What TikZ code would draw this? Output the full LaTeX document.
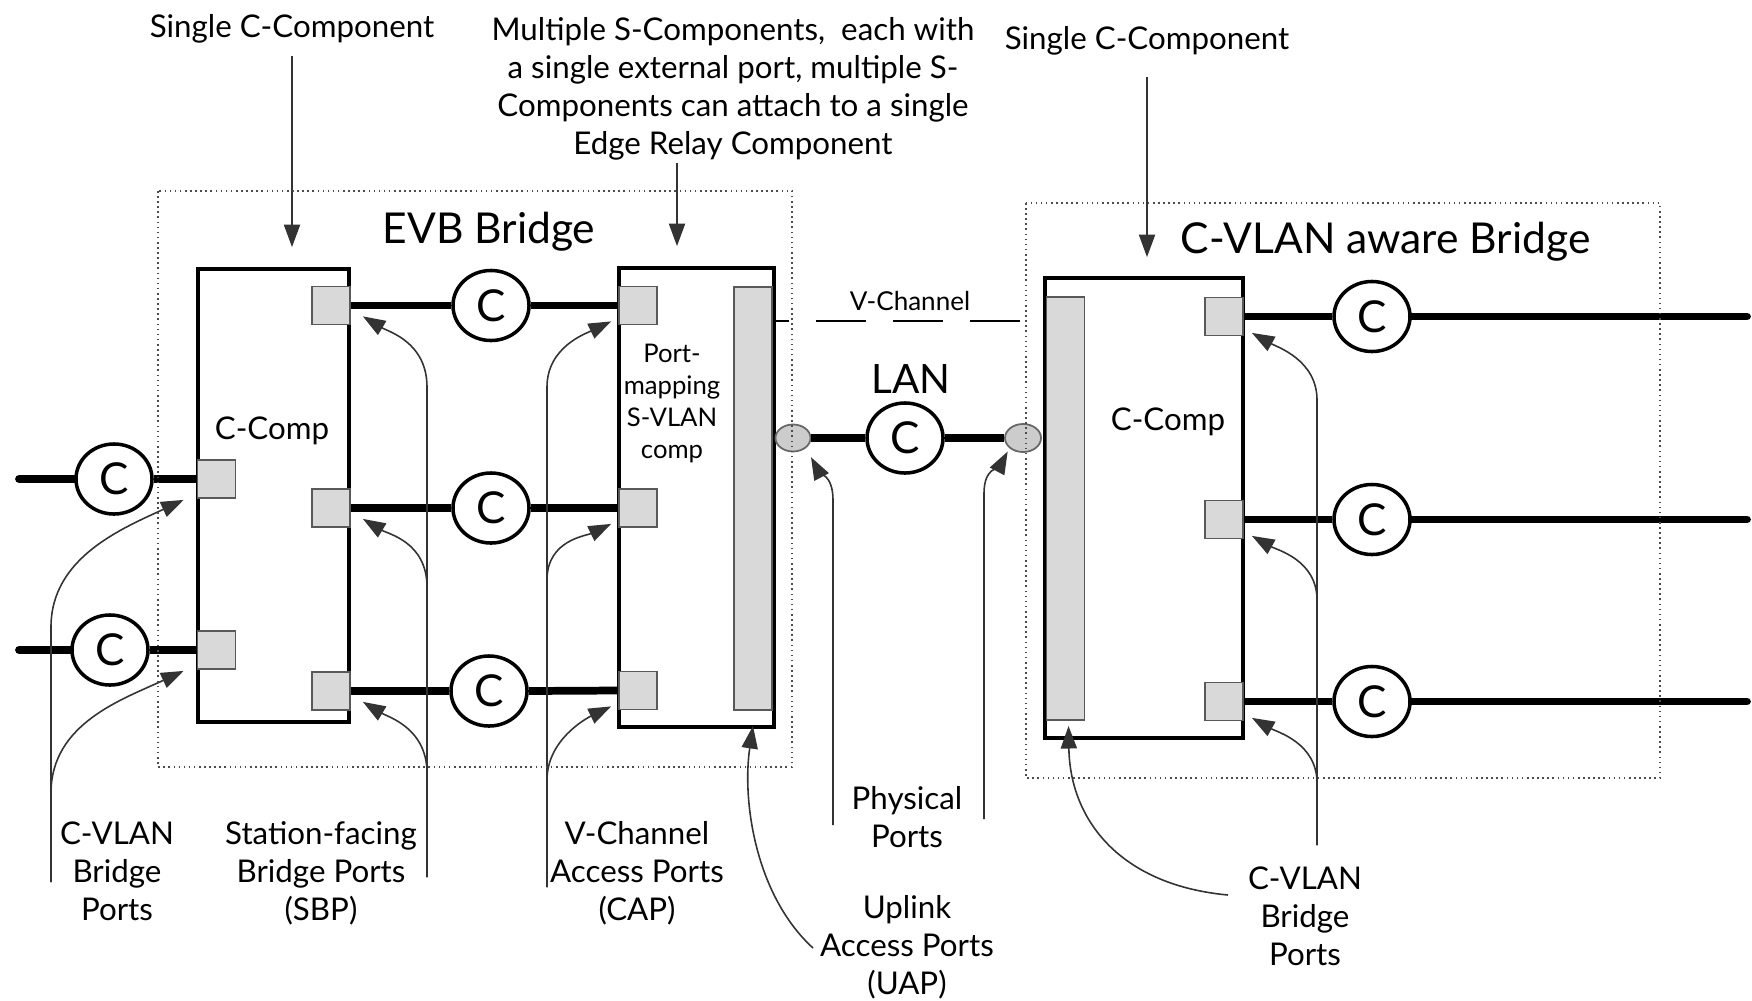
\documentclass[tikz,border=0pt]{standalone}
\usepackage{fontspec}
\setmainfont{Lato}
\usetikzlibrary{positioning,arrows.meta,shapes.geometric}

\begin{document}
\begin{tikzpicture}[x=0.01cm,y=-0.01cm,
    comp/.style={draw,line width=1pt,fill=white,inner sep=0pt},
    port/.style={draw=black!65,line width=0.5pt,fill=black!15,inner sep=0pt,minimum width=0.38cm,minimum height=0.38cm},
    bar/.style={draw=black!65,line width=0.5pt,fill=black!15,inner sep=0pt,minimum width=0.38cm,minimum height=4.23cm},
    chan/.style={ellipse,draw,line width=1pt,fill=white,inner sep=0pt,minimum width=0.76cm,minimum height=0.70cm,font=\fontsize{12.5}{14}\selectfont},
    phys/.style={ellipse,draw=black!60,line width=0.5pt,fill=black!20,inner sep=0pt,minimum width=0.35cm,minimum height=0.27cm},
    link/.style={line width=2.2pt},
    note/.style={align=center,inner sep=0pt,anchor=north,font=\fontsize{8.9}{10.8}\selectfont},
    pointer/.style={line width=0.45pt,draw=black!80,-{Triangle[width=4.6pt,length=6.4pt]}},
    frame/.style={densely dotted,line width=0.45pt,draw=black!70}]
  \useasboundingbox (0,0) rectangle (1752,1000);

  \node[comp,minimum width=1.51cm,minimum height=4.53cm] (ccompL) at (273.5,495.5) {};
  \node[comp,minimum width=1.55cm,minimum height=4.59cm] (svlan) at (696.5,497.5) {};
  \node[comp,minimum width=1.98cm,minimum height=4.60cm] (ccompR) at (1144,508) {};
  \node[bar] (sbar) at (753,498.5) {};
  \node[bar] (rbar) at (1065.5,508.5) {};

  \node[anchor=base,inner sep=0pt,font=\fontsize{8.9}{11}\selectfont] (ccompLtxt) at (272,439) {C-Comp};
  \node[anchor=base,inner sep=0pt,font=\fontsize{8.9}{11}\selectfont] (ccompRtxt) at (1168,430) {C-Comp};
  \node[align=center,anchor=north,inner sep=0pt,font=\fontsize{7.3}{9.1}\selectfont] (svlantxt) at (672,343) {Port-\\mapping\\S-VLAN\\comp};
  \node[anchor=base west,inner sep=0pt,font=\fontsize{12.1}{14}\selectfont] (evbtitle) at (382,243) {EVB Bridge};
  \node[anchor=base west,inner sep=0pt,font=\fontsize{12.1}{14}\selectfont] (cvlantitle) at (1180,253) {C-VLAN aware Bridge};
  \node[anchor=base,inner sep=0pt,font=\fontsize{11.5}{14}\selectfont] (lantxt) at (911,393) {LAN};
  \node[anchor=base,inner sep=0pt,font=\fontsize{7.4}{9}\selectfont] (vchtxt) at (910,310) {V-Channel};

  \node[port] (pcl1) at (216.5,479) {};
  \node[port] (pcl2) at (216.5,650) {};
  \node[port] (psbp1) at (331,305.5) {};
  \node[port] (psbp2) at (331,508) {};
  \node[port] (psbp3) at (331,691) {};
  \node[port] (pcap1) at (638,305.5) {};
  \node[port] (pcap2) at (638,508) {};
  \node[port] (pcap3) at (638,690.5) {};
  \node[port] (pcr1) at (1224,316.5) {};
  \node[port] (pcr2) at (1224,519.5) {};
  \node[port] (pcr3) at (1224,701.5) {};
  \node[phys] (phyL) at (793,438) {};
  \node[phys,minimum width=0.36cm,minimum height=0.28cm] (phyR) at (1023,438) {};

  \node[chan] (chL1) at (114,479) {C};
  \node[chan] (chL2) at (110,650) {C};
  \node[chan] (chM1) at (491,305.5) {C};
  \node[chan] (chM2) at (491,508) {C};
  \node[chan] (chM3) at (489,691) {C};
  \node[chan] (chLan) at (905,438) {C};
  \node[chan] (chR1) at (1372,316.5) {C};
  \node[chan] (chR2) at (1372,519.5) {C};
  \node[chan] (chR3) at (1372,701.5) {C};

  \coordinate (endL1) at (19,479);
  \coordinate (endL2) at (19,650);
  \coordinate (endR1) at (1747,316.5);
  \coordinate (endR2) at (1747,519.5);
  \coordinate (endR3) at (1747,701.5);
  \draw[link,line cap=round] (endL1) -- (chL1.west);
  \draw[link] (chL1.east) -- (pcl1.west);
  \draw[link,line cap=round] (endL2) -- (chL2.west);
  \draw[link] (chL2.east) -- (pcl2.west);
  \draw[link] (psbp1.east) -- (chM1.west);
  \draw[link] (chM1.east) -- (pcap1.west);
  \draw[link] (psbp2.east) -- (chM2.west);
  \draw[link] (chM2.east) -- (pcap2.west);
  \draw[link] (psbp3.east) -- (chM3.west);
  \draw[link] (chM3.east) -- (pcap3.west);
  \draw[link] (phyL.east) -- (chLan.west);
  \draw[link] (chLan.east) -- (phyR.west);
  \draw[link] (pcr1.east) -- (chR1.west);
  \draw[link,line cap=round] (chR1.east) -- (endR1);
  \draw[link] (pcr2.east) -- (chR2.west);
  \draw[link,line cap=round] (chR2.east) -- (endR2);
  \draw[link] (pcr3.east) -- (chR3.west);
  \draw[link,line cap=round] (chR3.east) -- (endR3);

  \coordinate (vchline) at (0,321);
  \draw[line width=0.8pt,dash pattern=on 0.5cm off 0.27cm,dash phase=0.37cm] (svlan.east |- vchline) -- (ccompR.west |- vchline);

  \node[note] (singleL) at (292,14) {Single C-Component};
  \node[note] (singleR) at (1147,26) {Single C-Component};
  \node[note] (multiS) at (733,17) {Multiple S-Components,\ \ each with\\a single external port, multiple S-\\Components can attach to a single\\Edge Relay Component};
  \node[note] (cvlanL) at (117,821) {C-VLAN\\Bridge\\Ports};
  \node[note] (sbpnote) at (321,821) {Station-facing\\Bridge Ports\\(SBP)};
  \node[note] (capnote) at (637,821) {V-Channel\\Access Ports\\(CAP)};
  \node[note] (physnote) at (907,786) {Physical\\Ports};
  \node[note] (uapnote) at (907,895) {Uplink\\Access Ports\\(UAP)};
  \node[note] (cvlanR) at (1305,866) {C-VLAN\\Bridge\\Ports};

  \coordinate (erTop) at (677,163);
  \draw[pointer,shorten <=0.12cm,shorten >=0.2cm] (singleL.south) -- (singleL.south |- ccompL.north);
  \draw[pointer,shorten >=0.2cm] (erTop) -- (erTop |- svlan.north);
  \draw[pointer,shorten <=0.21cm,shorten >=0.19cm] (singleR.south) -- (singleR.south |- ccompR.north);

  \coordinate (cvlanLfoot) at (51,882);
  \coordinate (sbpfoot) at (427,877);
  \coordinate (capfoot) at (547,887);
  \coordinate (physfootL) at (833,825);
  \coordinate (physfootR) at (984,819);
  \coordinate (uapfoot) at (813,948);
  \coordinate (cvlanRfoot) at (1317,845);
  \coordinate (cvlanRbar) at (1228,895);

  \draw[pointer] (cvlanLfoot) -- ++(0,-255) .. controls +(0,-70) and +(-60,28) .. ([xshift=-0.13cm,yshift=-0.01cm]pcl1.south west);
  \draw[pointer] (cvlanLfoot) -- ++(0,-89) .. controls +(0,-70) and +(-60,28) .. ([xshift=-0.13cm,yshift=-0.01cm]pcl2.south west);
  \draw[pointer] (sbpfoot) -- ++(0,-490) .. controls +(0,-45) and +(25,15) .. ([xshift=0.12cm,yshift=0.09cm]psbp1.south east);
  \draw[pointer] (sbpfoot) -- ++(0,-290) .. controls +(0,-45) and +(25,15) .. ([xshift=0.12cm,yshift=0.09cm]psbp2.south east);
  \draw[pointer] (sbpfoot) -- ++(0,-104) .. controls +(0,-45) and +(25,15) .. ([xshift=0.12cm,yshift=0.09cm]psbp3.south east);
  \draw[pointer] (capfoot) -- ++(0,-500) .. controls +(0,-40) and +(-25,12) .. ([xshift=-0.07cm,yshift=0.04cm]pcap1.south west);
  \draw[pointer] (capfoot) -- ++(0,-307) .. controls +(0,-40) and +(-25,12) .. ([xshift=-0.07cm,yshift=0.04cm]pcap2.south west);
  \draw[pointer] (capfoot) -- ++(0,-107) .. controls +(0,-40) and +(-25,12) .. ([xshift=-0.07cm,yshift=0.04cm]pcap3.south west);
  \draw[pointer] (physfootL) -- ++(0,-325) .. controls +(0,-25) and +(8,15) .. ([xshift=0.05cm,yshift=-0.09cm]phyL.south east);
  \draw[pointer] (physfootR) -- ++(0,-326) .. controls +(0,-25) and +(-8,15) .. ([xshift=-0.02cm,yshift=-0.03cm]phyR.south west);
  \draw[pointer] (uapfoot) .. controls (755,895) and (742,800) .. ([yshift=-0.15cm]sbar.south);
  \draw[pointer] (cvlanRfoot) -- ++(0,-445) .. controls +(0,-40) and +(25,14) .. ([xshift=0.08cm,yshift=0.035cm]pcr1.south east);
  \draw[pointer] (cvlanRfoot) -- ++(0,-245) .. controls +(0,-40) and +(25,14) .. ([xshift=0.08cm,yshift=0.035cm]pcr2.south east);
  \draw[pointer] (cvlanRfoot) -- ++(0,-62) .. controls +(0,-40) and +(25,14) .. ([xshift=0.08cm,yshift=0.035cm]pcr3.south east);
  \draw[pointer] (cvlanRbar) .. controls (1120,885) and (1070,820) .. ([xshift=0.03cm,yshift=-0.05cm]rbar.south);

  \draw[frame] (158,191) rectangle (792,767);
  \draw[frame] (1026,203) rectangle (1660,778);
\end{tikzpicture}
\end{document}
